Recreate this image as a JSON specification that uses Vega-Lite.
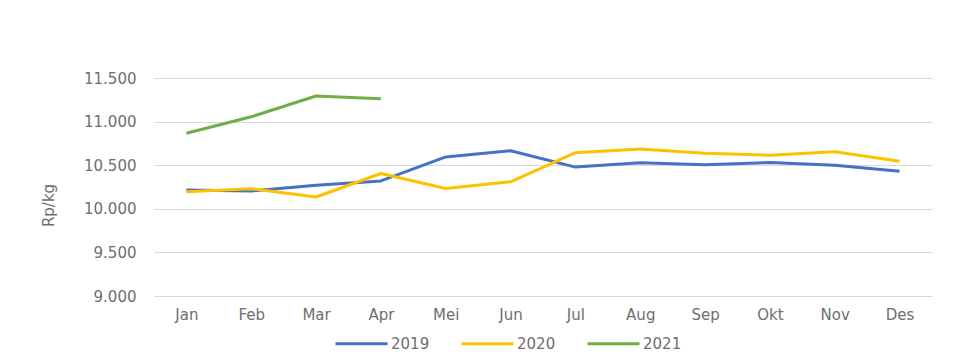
{
  "$schema": "https://vega.github.io/schema/vega-lite/v6.json",
  "autosize": {"type": "none"},
  "width": 778,
  "height": 218,
  "padding": {"left": 154, "top": 78, "right": 42, "bottom": 65},
  "background": "white",
  "config": {
    "view": {"stroke": null},
    "font": "DejaVu Sans",
    "axis": {"labelColor": "#6e6e6e", "titleColor": "#6e6e6e", "labelFontSize": 15, "titleFontWeight": "normal", "labelFont": "DejaVu Sans", "titleFont": "DejaVu Sans"}
  },
  "data": {
    "values": [
      {"bulan": "Jan", "tahun": "2019", "harga": 10215},
      {"bulan": "Feb", "tahun": "2019", "harga": 10205},
      {"bulan": "Mar", "tahun": "2019", "harga": 10270},
      {"bulan": "Apr", "tahun": "2019", "harga": 10320},
      {"bulan": "Mei", "tahun": "2019", "harga": 10595},
      {"bulan": "Jun", "tahun": "2019", "harga": 10665},
      {"bulan": "Jul", "tahun": "2019", "harga": 10478},
      {"bulan": "Aug", "tahun": "2019", "harga": 10528},
      {"bulan": "Sep", "tahun": "2019", "harga": 10505},
      {"bulan": "Okt", "tahun": "2019", "harga": 10530},
      {"bulan": "Nov", "tahun": "2019", "harga": 10500},
      {"bulan": "Des", "tahun": "2019", "harga": 10430},
      {"bulan": "Jan", "tahun": "2020", "harga": 10195},
      {"bulan": "Feb", "tahun": "2020", "harga": 10230},
      {"bulan": "Mar", "tahun": "2020", "harga": 10135},
      {"bulan": "Apr", "tahun": "2020", "harga": 10405},
      {"bulan": "Mei", "tahun": "2020", "harga": 10232},
      {"bulan": "Jun", "tahun": "2020", "harga": 10310},
      {"bulan": "Jul", "tahun": "2020", "harga": 10643},
      {"bulan": "Aug", "tahun": "2020", "harga": 10685},
      {"bulan": "Sep", "tahun": "2020", "harga": 10636},
      {"bulan": "Okt", "tahun": "2020", "harga": 10615},
      {"bulan": "Nov", "tahun": "2020", "harga": 10655},
      {"bulan": "Des", "tahun": "2020", "harga": 10545},
      {"bulan": "Jan", "tahun": "2021", "harga": 10866},
      {"bulan": "Feb", "tahun": "2021", "harga": 11055},
      {"bulan": "Mar", "tahun": "2021", "harga": 11293},
      {"bulan": "Apr", "tahun": "2021", "harga": 11262}
    ]
  },
  "mark": {"type": "line", "strokeWidth": 3, "strokeJoin": "round"},
  "encoding": {
    "x": {
      "field": "bulan",
      "type": "ordinal",
      "sort": ["Jan", "Feb", "Mar", "Apr", "Mei", "Jun", "Jul", "Aug", "Sep", "Okt", "Nov", "Des"],
      "scale": {"type": "point", "padding": 0.5},
      "axis": {"title": null, "labelAngle": 0, "domain": false, "ticks": false, "labelPadding": 11, "grid": false}
    },
    "y": {
      "field": "harga",
      "type": "quantitative",
      "scale": {"domain": [9000, 11500], "zero": false, "nice": false},
      "axis": {
        "title": "Rp/kg",
        "titleFontSize": 15,
        "titleAngle": -90,
        "titleX": -106,
        "titleY": 127,
        "titleAlign": "center",
        "titleBaseline": "middle",
        "values": [9000, 9500, 10000, 10500, 11000, 11500],
        "labelExpr": "replace(format(datum.value, ','), ',', '.')",
        "domain": false,
        "ticks": false,
        "labelPadding": 18,
        "grid": true,
        "gridColor": "#d9d9d9",
        "gridWidth": 1
      }
    },
    "color": {
      "field": "tahun",
      "type": "nominal",
      "scale": {"domain": ["2019", "2020", "2021"], "range": ["#4472C4", "#FFC000", "#70AD47"]},
      "legend": {
        "title": null,
        "orient": "none",
        "direction": "horizontal",
        "legendX": 180,
        "legendY": 238,
        "symbolType": "stroke",
        "symbolStrokeWidth": 3,
        "symbolSize": 2704,
        "labelFont": "DejaVu Sans",
        "labelFontSize": 15,
        "labelColor": "#6e6e6e",
        "labelOffset": 2,
        "columnPadding": 25
      }
    }
  }
}
